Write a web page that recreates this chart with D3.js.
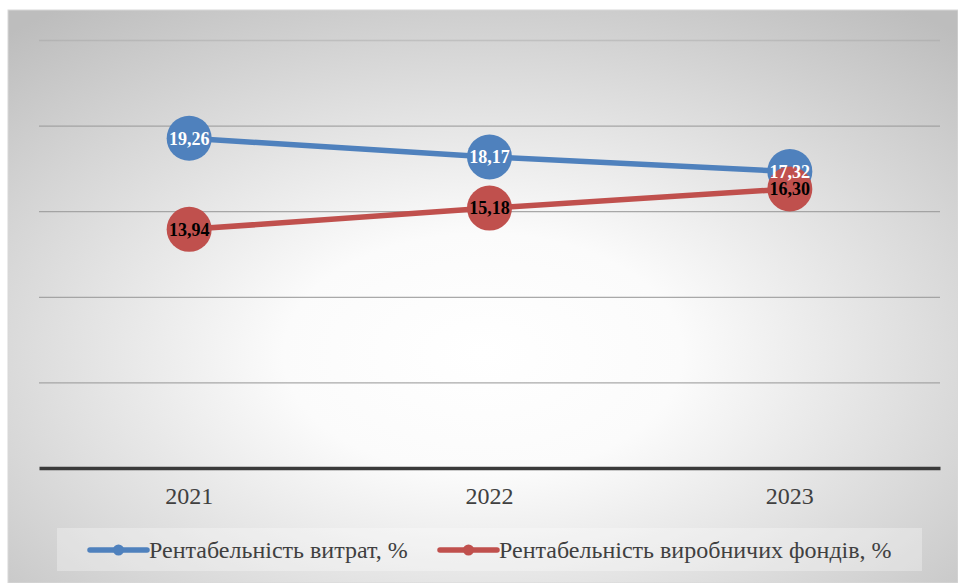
<!DOCTYPE html>
<html>
<head>
<meta charset="utf-8">
<script src="https://cdn.jsdelivr.net/npm/d3@7"></script>
<style>
  body { margin: 0; background: #fff; }
</style>
</head>
<body>
<div id="chart"></div>
<script>
// Data
const years = ["2021", "2022", "2023"];
const costProfit = [19.26, 18.17, 17.32];
const fundsProfit = [13.94, 15.18, 16.30];
const seriesNames = ["Рентабельність витрат, %", "Рентабельність виробничих фондів, %"];
const yTicks = [0, 5, 10, 15, 20, 25];

const serif = "'Liberation Serif', 'Times New Roman', 'DejaVu Serif', serif";
const W = 958, H = 583;
const panel = {x: 8, y: 10, w: 950, h: 573};
const margin = {top: 40, left: 39},
      width = 940 - margin.left,
      height = 468 - margin.top;

const svg = d3.select("#chart")
    .append("svg")
    .attr("width", W)
    .attr("height", H)
    .attr("font-family", serif);

// Background with radial gradient
const defs = svg.append("defs");
const grad = defs.append("radialGradient")
    .attr("id", "bg")
    .attr("cx", "50%").attr("cy", "60%").attr("r", "75%");
grad.append("stop").attr("offset", "0%").attr("stop-color", "#ffffff");
grad.append("stop").attr("offset", "28%").attr("stop-color", "#fbfbfb");
grad.append("stop").attr("offset", "100%").attr("stop-color", "#bdbdbd");

svg.append("rect")
    .attr("x", panel.x).attr("y", panel.y)
    .attr("width", panel.w).attr("height", panel.h)
    .attr("fill", "url(#bg)")
    .attr("stroke", "#d8d8d8")
    .attr("stroke-width", 1);

const g = svg.append("g")
    .attr("transform", `translate(${margin.left},${margin.top})`);

// Scales
const x = d3.scaleBand()
    .domain(years)
    .range([0, width]);
const y = d3.scaleLinear()
    .domain([0, 25])
    .range([height, 0]);

// Gridlines
const grid = g.append("g")
    .call(d3.axisLeft(y).tickValues(yTicks.slice(1)).tickSize(-width).tickFormat(""));
grid.select(".domain").remove();
grid.selectAll(".tick line")
    .attr("stroke", "#9a9a9a")
    .attr("stroke-opacity", d => d === 25 ? 0.35 : 0.85)
    .attr("stroke-width", 1.3);

// X axis (baseline + labels)
const xAxis = g.append("g")
    .attr("transform", `translate(0,${height})`)
    .call(d3.axisBottom(x).tickSize(0).tickPadding(19))
    .attr("font-family", serif)
    .attr("font-size", 24);
xAxis.select(".domain")
    .attr("stroke", "#3a3a3a")
    .attr("stroke-width", 3.5);
xAxis.selectAll(".tick text")
    .attr("fill", "#404040");

// Series
const series = [
    {name: seriesNames[0], values: costProfit, color: "#4F81BD", labelColor: "#ffffff"},
    {name: seriesNames[1], values: fundsProfit, color: "#C0504D", labelColor: "#000000"}
];

const line = d3.line()
    .x((d, i) => x(years[i]) + x.bandwidth() / 2)
    .y(d => y(d));

series.forEach(s => {
    g.append("path")
        .datum(s.values)
        .attr("fill", "none")
        .attr("stroke", s.color)
        .attr("stroke-width", 5.5)
        .attr("d", line);
});

series.forEach(s => {
    g.append("g").selectAll("circle")
        .data(s.values)
        .enter()
        .append("circle")
        .attr("cx", (d, i) => x(years[i]) + x.bandwidth() / 2)
        .attr("cy", d => y(d))
        .attr("r", 22.5)
        .attr("fill", s.color);
});

series.forEach(s => {
    g.append("g").selectAll("text")
        .data(s.values)
        .enter()
        .append("text")
        .attr("x", (d, i) => x(years[i]) + x.bandwidth() / 2)
        .attr("y", d => y(d))
        .attr("dy", "0.35em")
        .attr("text-anchor", "middle")
        .attr("fill", s.labelColor)
        .attr("font-size", 18)
        .attr("font-weight", "bold")
        .text(d => d.toFixed(2).replace(".", ","));
});

// Legend
const legend = svg.append("g");
legend.append("rect")
    .attr("x", 57).attr("y", 528)
    .attr("width", 865).attr("height", 43)
    .attr("fill", "#ffffff")
    .attr("fill-opacity", 0.3);

const legendX = [90, 440];
series.forEach((s, i) => {
    const lg = legend.append("g").attr("transform", `translate(${legendX[i]},550)`);
    lg.append("line")
        .attr("x1", 0).attr("x2", 57)
        .attr("stroke", s.color)
        .attr("stroke-width", 5.5)
        .attr("stroke-linecap", "round");
    lg.append("circle")
        .attr("cx", 28.5).attr("r", 5.5)
        .attr("fill", s.color);
    lg.append("text")
        .attr("x", 59)
        .attr("dy", "0.33em")
        .attr("fill", "#404040")
        .attr("font-size", 24)
        .text(s.name);
});
</script>
</body>
</html>
